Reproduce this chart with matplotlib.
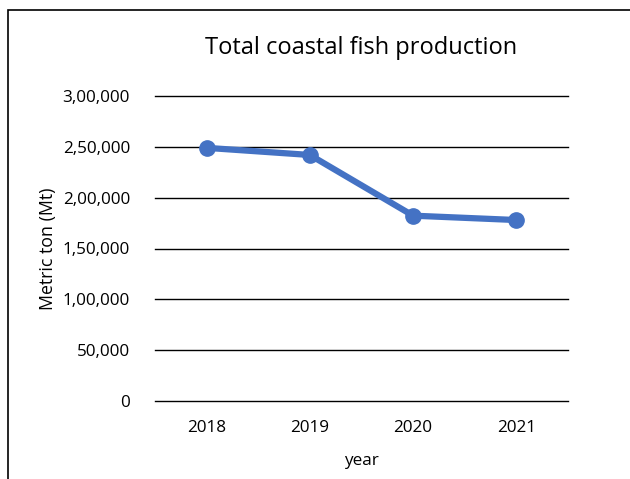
import matplotlib.pyplot as plt
from matplotlib.patches import Rectangle
from matplotlib.ticker import FuncFormatter

years = ["2018", "2019", "2020", "2021"]
production = [249000, 242000, 182300, 178000]
y_ticks = [0, 50000, 100000, 150000, 200000, 250000, 300000]


def indian_format(v, _):
    v = int(round(v))
    if v == 0:
        return "0"
    s = str(v)
    last3 = s[-3:]
    rest = s[:-3]
    parts = []
    while len(rest) > 2:
        parts.insert(0, rest[-2:])
        rest = rest[:-2]
    if rest:
        parts.insert(0, rest)
    return ",".join(parts + [last3])


plt.rcParams["font.family"] = ["Open Sans", "DejaVu Sans"]

fig = plt.figure(figsize=(6.3, 4.79), dpi=100)
fig.patches.append(Rectangle((8 / 630, -0.1), 2, 1.1 - 10 / 479,
                             transform=fig.transFigure, fill=False,
                             edgecolor="black", linewidth=1.2))

ax = fig.add_axes([155 / 630, 1 - 401 / 479, 413 / 630, 305 / 479])
x = range(len(years))
ax.plot(x, production, color="#4472C4", linewidth=4.5, marker="o",
        markersize=11, solid_capstyle="round", zorder=3)

ax.set_xlim(-0.5, len(years) - 0.5)
ax.set_ylim(0, 300000)
ax.set_yticks(y_ticks)
ax.yaxis.set_major_formatter(FuncFormatter(indian_format))
ax.set_xticks(list(x))
ax.set_xticklabels(years)
for t in y_ticks:
    ax.axhline(t, color="black", linewidth=1, clip_on=False, zorder=1)
for s in ax.spines.values():
    s.set_visible(False)
ax.tick_params(length=0, labelsize=12.3)
ax.tick_params(axis="y", pad=18)
ax.tick_params(axis="x", pad=14)

ax.set_ylabel("Metric ton (Mt)", fontsize=12.8, labelpad=4)
ax.set_xlabel("year", fontsize=12.3, labelpad=12)
fig.text(361 / 630, 1 - 48 / 479, "Total coastal fish production",
         ha="center", va="center", fontsize=17)

fig.savefig("out.png", dpi=100)
